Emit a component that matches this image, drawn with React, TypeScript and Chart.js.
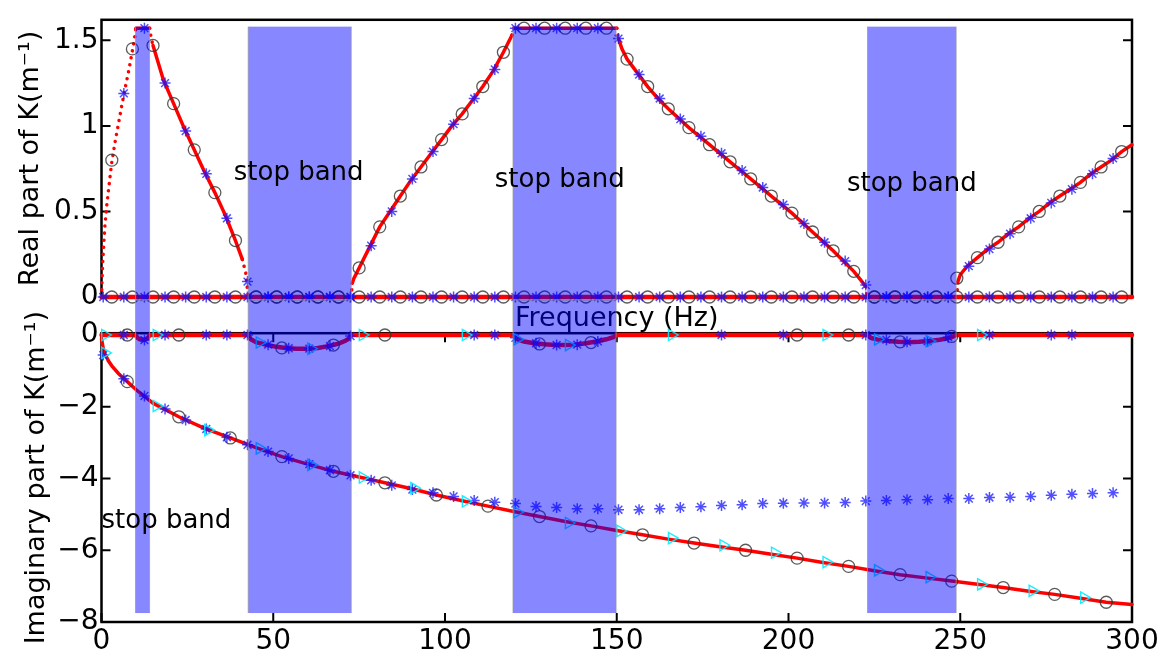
import React, { useEffect, useRef } from "react";
import { Chart, registerables } from "chart.js";

Chart.register(...registerables);
Chart.defaults.font.family = "'DejaVu Sans', sans-serif";

// ---------------- axes ----------------
const FREQ_TICKS = [0, 50, 100, 150, 200, 250, 300];
const RE_TICKS = [0, 0.5, 1, 1.5];
const IM_TICKS = [0, -2, -4, -6, -8];

// ---------------- stop bands (Hz) ----------------
const BAND_START = [9.9, 42.7, 119.8, 223];
const BAND_END = [14, 72.7, 149.8, 248.8];

// ---------------- analytic curves ----------------
// mode 1, real part of K
const RE1_F = [0, 0.3, 0.6, 1, 1.5, 2, 3, 4, 5, 6, 7, 8, 9, 9.6, 10, 14, 14.5, 15, 18, 21, 24, 27, 30, 33, 36, 39, 41, 42, 42.7,
  72.7, 73, 73.5, 75, 78, 81, 84, 87, 90, 93, 96, 99, 102, 105, 108, 111, 114, 117, 118.5, 119.5, 120,
  150, 150.5, 151.5, 153, 156, 159, 162, 165, 171, 177, 183, 189, 195, 201, 207, 213, 216, 219, 221, 222.5, 223,
  249, 249.3, 250, 252, 255, 258, 261, 264, 267, 270, 273, 276, 279, 282, 285, 288, 291, 294, 297, 300];
const RE1_K = [0, 0.18, 0.29, 0.42, 0.53, 0.62, 0.79, 0.91, 1.02, 1.13, 1.23, 1.33, 1.44, 1.51, 1.571, 1.571, 1.51, 1.47, 1.27, 1.13, 0.99, 0.86, 0.73, 0.61, 0.48, 0.33, 0.22, 0.14, 0,
  0, 0.08, 0.11, 0.17, 0.29, 0.41, 0.5, 0.59, 0.68, 0.76, 0.84, 0.92, 1.0, 1.07, 1.15, 1.23, 1.32, 1.43, 1.49, 1.53, 1.571,
  1.571, 1.51, 1.45, 1.39, 1.31, 1.23, 1.16, 1.1, 0.99, 0.89, 0.79, 0.69, 0.59, 0.49, 0.38, 0.27, 0.21, 0.15, 0.1, 0.06, 0,
  0, 0.09, 0.13, 0.18, 0.23, 0.28, 0.32, 0.37, 0.41, 0.46, 0.5, 0.55, 0.59, 0.63, 0.67, 0.72, 0.76, 0.8, 0.85, 0.89];
// mode 2, real part of K (evanescent)
const RE2_F = [0, 300];
const RE2_K = [0, 0];

// mode 1, imaginary part of K
const IM1_F = [0, 9.9, 10.5, 11.2, 12, 12.8, 13.5, 14,
  42.7, 43.5, 45, 48, 51, 54, 57, 60, 63, 66, 69, 71, 72, 72.7,
  119.8, 121, 123, 126, 129, 132, 135, 138, 141, 144, 147, 149, 149.8,
  223, 224, 226, 229, 232, 235, 238, 241, 244, 247, 248, 248.8, 300];
const IM1_K = [0, 0, -0.08, -0.12, -0.14, -0.12, -0.08, 0,
  0, -0.12, -0.2, -0.27, -0.33, -0.37, -0.38, -0.38, -0.36, -0.31, -0.24, -0.16, -0.1, 0,
  0, -0.12, -0.18, -0.23, -0.26, -0.28, -0.28, -0.27, -0.23, -0.18, -0.12, -0.06, 0,
  0, -0.08, -0.13, -0.17, -0.19, -0.2, -0.19, -0.17, -0.13, -0.08, -0.04, 0, 0];
// mode 2, imaginary part of K
const IM2_F = [0, 0.5, 1, 2, 3, 5, 7.5, 10, 15, 22.5, 30, 37.5, 45, 52.5, 60, 67.5, 75, 82.5, 90, 97.5, 105, 112.5,
  120, 127.5, 135, 142.5, 150, 157.5, 165, 172.5, 180, 187.5, 195, 202.5, 210, 217.5, 225, 232.5, 240, 247.5,
  255, 262.5, 270, 277.5, 285, 292.5, 300];
const IM2_K = [-0.1, -0.38, -0.52, -0.72, -0.86, -1.08, -1.3, -1.52, -1.9, -2.28, -2.6, -2.87, -3.14, -3.39, -3.6, -3.8, -3.96, -4.12, -4.28, -4.46, -4.62, -4.77,
  -4.92, -5.06, -5.2, -5.32, -5.45, -5.57, -5.69, -5.8, -5.9, -6.0, -6.11, -6.22, -6.34, -6.45, -6.57, -6.68, -6.77, -6.86,
  -6.95, -7.04, -7.14, -7.23, -7.34, -7.45, -7.51];

// ---------------- numerical samples ----------------
const CIRC_F_RE = [3, 9, 15, 21, 27, 33, 39, 45, 51, 57, 63, 69, 75, 81, 87, 93, 99, 105, 111, 117, 123, 129, 135, 141, 147,
  153, 159, 165, 171, 177, 183, 189, 195, 201, 207, 213, 219, 225, 231, 237, 243, 249, 255, 261, 267, 273, 279, 285, 291, 297];
const STAR_F = [0.5, 6.5, 12.5, 18.5, 24.5, 30.5, 36.5, 42.5, 48.5, 54.5, 60.5, 66.5, 72.5, 78.5, 84.5, 90.5, 96.5, 102.5, 108.5, 114.5,
  120.5, 126.5, 132.5, 138.5, 144.5, 150.5, 156.5, 162.5, 168.5, 174.5, 180.5, 186.5, 192.5, 198.5, 204.5, 210.5, 216.5, 222.5, 228.5, 234.5,
  240.5, 246.5, 252.5, 258.5, 264.5, 270.5, 276.5, 282.5, 288.5, 294.5];
const CIRC_F_IM = [7.5, 22.5, 37.5, 52.5, 67.5, 82.5, 97.5, 112.5, 127.5, 142.5, 157.5, 172.5, 187.5, 202.5, 217.5, 232.5, 247.5, 262.5, 277.5, 292.5];
const TRI_F = [1, 16, 31, 46, 61, 76, 91, 106, 121, 136, 151, 166, 181, 196, 211, 226, 241, 256, 271, 286];

const RE1_CIRC = [0.8, 1.45, 1.47, 1.13, 0.86, 0.61, 0.33, 0, 0, 0, 0, 0, 0.17, 0.41, 0.59, 0.76, 0.92, 1.07, 1.23, 1.43,
  1.571, 1.571, 1.571, 1.571, 1.571, 1.39, 1.23, 1.1, 0.99, 0.89, 0.79, 0.69, 0.59, 0.49, 0.38, 0.27, 0.15, 0, 0, 0, 0,
  0.11, 0.23, 0.32, 0.41, 0.5, 0.59, 0.67, 0.76, 0.85];
const RE2_CIRC = [0, 0, 0, 0, 0, 0, 0, 0, 0, 0, 0, 0, 0, 0, 0, 0, 0, 0, 0, 0, 0, 0, 0, 0, 0,
  0, 0, 0, 0, 0, 0, 0, 0, 0, 0, 0, 0, 0, 0, 0, 0, 0, 0, 0, 0, 0, 0, 0, 0, 0];
const RE1_STAR = [null, 1.19, 1.571, 1.25, 0.97, 0.72, 0.46, 0.09, 0, 0, 0, 0, 0, 0.3, 0.5, 0.69, 0.85, 1.01, 1.16, 1.33,
  1.571, 1.571, 1.571, 1.571, 1.571, 1.51, 1.3, 1.16, 1.04, 0.94, 0.84, 0.74, 0.64, 0.54, 0.43, 0.32, 0.21, 0.07, 0, 0,
  0, 0, 0.18, 0.28, 0.37, 0.46, 0.55, 0.63, 0.72, 0.81];
const RE2_STAR = [0, 0, 0, 0, 0, 0, 0, 0, 0, 0, 0, 0, 0, 0, 0, 0, 0, 0, 0, 0, 0, 0, 0, 0, 0,
  0, 0, 0, 0, 0, 0, 0, 0, 0, 0, 0, 0, 0, 0, 0, 0, 0, 0, 0, 0, 0, 0, 0, 0, 0];

const IM1_CIRC = [0, 0, null, -0.36, -0.28, 0, null, null, -0.25, -0.21, null, null, null, 0, 0, -0.19, -0.04, null, null, null];
const IM2_CIRC = [-1.3, -2.28, -2.87, -3.39, -3.8, -4.12, -4.46, -4.77, -5.06, -5.32, -5.57, -5.8, -6.0, -6.22, -6.45, -6.68, -6.86, -7.04, -7.23, -7.45];
const IM1_TRI = [0, 0, null, -0.21, -0.38, 0, null, 0, -0.12, -0.28, null, 0, null, null, 0, -0.12, -0.17, 0, null, null];
const IM2_TRI = [-0.5, -1.98, -2.65, -3.16, -3.62, -3.97, -4.27, -4.64, -4.94, -5.24, -5.46, -5.66, -5.86, -6.07, -6.33, -6.56, -6.75, -6.95, -7.13, -7.32];
const IM1_STAR = [null, 0, -0.14, 0, null, 0, 0, 0, -0.27, -0.37,
  -0.38, -0.31, -0.03, null, null, null, null, null, 0, 0,
  -0.08, -0.23, -0.28, -0.27, -0.18, null, null, null, null, null,
  0, null, null, 0, null, null, null, 0, -0.13, -0.19,
  -0.18, -0.06, null, 0, null, null, 0, 0, null, null];
const IM2_STAR = [-0.56, -1.22, -1.7, -2.06, -2.37, -2.62, -2.85, -3.06, -3.25, -3.44,
  -3.6, -3.77, -3.91, -4.05, -4.19, -4.31, -4.4, -4.5, -4.61, -4.66,
  -4.7, -4.78, -4.81, -4.84, -4.84, -4.87, -4.87, -4.84, -4.81, -4.79,
  -4.75, -4.73, -4.7, -4.69, -4.68, -4.68, -4.67, -4.63, -4.61, -4.59,
  -4.59, -4.56, -4.56, -4.53, -4.52, -4.5, -4.47, -4.44, -4.42, -4.4];

// annotation anchors (data coordinates)
const STOP_LABEL_F = [38.5, 114.5, 217];
const STOP_LABEL_RE = [0.685, 0.645, 0.62];
const STOP_LABEL_IM_F = 0;
const STOP_LABEL_IM = -5.38;
const BAND_RE_TOP = 1.58;
const BAND_IM_BOTTOM = -7.75;

// ---------------- layout ----------------
const W = 1168;
const H = 659;
const PLOT_LEFT = 101.5;
const PLOT_RIGHT = 1132;
const RE_TOP = 11;
const RE_BOTTOM = 297;
const IM_TOP = 333.2;
const IM_BOTTOM = 622;
const SEAM = 300;

const RED = "#ff0000";
const CIRCLE = "rgba(50,50,50,0.8)";
const STAR = "rgba(20,20,255,0.75)";
const TRI = "rgba(0,235,255,0.9)";
const BAND = "rgba(0,0,255,0.47)";

const pts = (xs: number[], ys: (number | null)[]) =>
  xs.map((x, i) => ({ x, y: ys[i] })).filter((p) => p.y !== null) as { x: number; y: number }[];

const steep = (c: any) => Math.abs(c.p1.y - c.p0.y) > 3.5 * Math.abs(c.p1.x - c.p0.x);

const curve = (xs: number[], ys: number[], width: number, dotted: boolean) => ({
  data: pts(xs, ys),
  showLine: true,
  borderColor: RED,
  borderWidth: width,
  borderCapStyle: "round",
  pointRadius: 0,
  clip: false,
  order: 10,
  segment: dotted ? { borderDash: (c: any) => (steep(c) ? [0.1, 7] : undefined) } : undefined,
});

const circles = (xs: number[], ys: (number | null)[]) => ({
  data: pts(xs, ys),
  showLine: false,
  pointStyle: "circle",
  pointRadius: 6,
  pointBorderWidth: 1.3,
  pointBorderColor: CIRCLE,
  pointBackgroundColor: "rgba(0,0,0,0)",
  clip: false,
  order: 3,
});

const stars = (xs: number[], ys: (number | null)[]) => ({
  data: pts(xs, ys),
  showLine: false,
  pointStyle: "star",
  pointRadius: 5.5,
  pointBorderWidth: 1.5,
  pointBorderColor: STAR,
  pointBackgroundColor: STAR,
  clip: false,
  order: 2,
});

const triangles = (xs: number[], ys: (number | null)[]) => ({
  data: pts(xs, ys),
  showLine: false,
  pointStyle: "triangle",
  pointRotation: 90,
  pointRadius: 6.5,
  pointBorderWidth: 1.4,
  pointBorderColor: TRI,
  pointBackgroundColor: "rgba(0,0,0,0)",
  clip: false,
  order: 1,
});

const fmt = (v: number) => (v < 0 ? "\u2212" + Math.abs(v) : String(v));

// spines with inward ticks
const framePlugin = (xTicks: number[] | null, yTicks: number[]) => ({
  id: "frame",
  beforeDatasetsDraw(chart: any) {
    const { ctx, chartArea: a, scales } = chart;
    const L = 9;
    ctx.save();
    ctx.strokeStyle = "#000";
    ctx.lineWidth = 2.5;
    ctx.strokeRect(a.left, a.top, a.right - a.left, a.bottom - a.top);
    ctx.lineWidth = 2;
    ctx.beginPath();
    for (const v of yTicks) {
      const y = scales.y.getPixelForValue(v);
      ctx.moveTo(a.left, y);
      ctx.lineTo(a.left + L, y);
      ctx.moveTo(a.right, y);
      ctx.lineTo(a.right - L, y);
    }
    if (xTicks) {
      for (const v of xTicks) {
        const x = scales.x.getPixelForValue(v);
        ctx.moveTo(x, a.bottom);
        ctx.lineTo(x, a.bottom - L);
        ctx.moveTo(x, a.top);
        ctx.lineTo(x, a.top + L);
      }
    }
    ctx.stroke();
    ctx.restore();
  },
});

// translucent stop-band rectangles drawn over the curves
const bandPlugin = (span: (chart: any) => [number, number], openTop: boolean) => ({
  id: "bands",
  afterDatasetsDraw(chart: any) {
    const { ctx, scales } = chart;
    const [y0, y1] = span(chart);
    ctx.save();
    for (let i = 0; i < BAND_START.length; i++) {
      const x0 = scales.x.getPixelForValue(BAND_START[i]);
      const x1 = scales.x.getPixelForValue(BAND_END[i]);
      ctx.fillStyle = BAND;
      ctx.fillRect(x0, y0, x1 - x0, y1 - y0);
      ctx.strokeStyle = "rgba(150,150,150,0.7)";
      ctx.lineWidth = 1;
      ctx.beginPath();
      if (openTop) {
        ctx.moveTo(x0, y0);
        ctx.lineTo(x0, y1);
        ctx.lineTo(x1, y1);
        ctx.lineTo(x1, y0);
      } else {
        ctx.moveTo(x0, y1);
        ctx.lineTo(x0, y0);
        ctx.lineTo(x1, y0);
        ctx.lineTo(x1, y1);
      }
      ctx.stroke();
    }
    ctx.restore();
  },
});

const textPlugin = (draw: (chart: any, ctx: CanvasRenderingContext2D) => void) => ({
  id: "texts",
  afterDraw(chart: any) {
    const ctx = chart.ctx as CanvasRenderingContext2D;
    ctx.save();
    ctx.fillStyle = "#000";
    draw(chart, ctx);
    ctx.restore();
  },
});

const TICK_FONT = { family: "'DejaVu Sans', sans-serif", size: 28 };
const TITLE_FONT = { family: "'DejaVu Sans', sans-serif", size: 27 };

export default function App() {
  const reRef = useRef<HTMLCanvasElement>(null);
  const imRef = useRef<HTMLCanvasElement>(null);

  useEffect(() => {
    const reChart = new Chart(reRef.current as HTMLCanvasElement, {
      type: "scatter",
      data: {
        datasets: [
          curve(RE1_F, RE1_K, 3.5, true),
          curve(RE2_F, RE2_K, 4.5, false),
          circles(CIRC_F_RE, RE1_CIRC),
          circles(CIRC_F_RE, RE2_CIRC),
          stars(STAR_F, RE1_STAR),
          stars(STAR_F, RE2_STAR),
        ] as any,
      },
      options: {
        animation: false,
        responsive: false,
        devicePixelRatio: 1,
        events: [],
        layout: { padding: { left: 0, right: W - PLOT_RIGHT, top: RE_TOP, bottom: H - RE_BOTTOM } },
        plugins: { legend: { display: false }, tooltip: { enabled: false } },
        scales: {
          x: { type: "linear", min: 0, max: 300, display: false },
          y: {
            type: "linear",
            min: 0,
            max: 1.62,
            afterFit: (s: any) => {
              s.width = PLOT_LEFT;
            },
            afterBuildTicks: (s: any) => {
              s.ticks = RE_TICKS.map((value) => ({ value }));
            },
            grid: { display: false, drawTicks: false, tickLength: 0 },
            border: { display: false },
            ticks: { font: TICK_FONT, color: "#000", padding: 3, callback: (v: any) => fmt(Number(v)) },
            title: {
              display: true,
              text: "Real part of K(m\u207B\u00B9)",
              font: TITLE_FONT,
              color: "#000",
              padding: { top: 15, bottom: 0 },
            },
          },
        },
      } as any,
      plugins: [
        framePlugin(null, RE_TICKS),
        bandPlugin((c) => [c.scales.y.getPixelForValue(BAND_RE_TOP), SEAM], true),
        textPlugin((c, ctx) => {
          const { scales, chartArea: a } = c;
          ctx.font = "26px 'DejaVu Sans', sans-serif";
          ctx.textAlign = "left";
          ctx.textBaseline = "alphabetic";
          for (let i = 0; i < STOP_LABEL_F.length; i++) {
            ctx.fillText("stop band", scales.x.getPixelForValue(STOP_LABEL_F[i]), scales.y.getPixelForValue(STOP_LABEL_RE[i]));
          }
          ctx.font = "27px 'DejaVu Sans', sans-serif";
          ctx.textAlign = "center";
          ctx.fillText("Frequency (Hz)", (a.left + a.right) / 2, 326);
        }),
      ],
    });

    const imChart = new Chart(imRef.current as HTMLCanvasElement, {
      type: "scatter",
      data: {
        datasets: [
          curve(IM1_F, IM1_K, 4.5, false),
          curve(IM2_F, IM2_K, 3.5, false),
          circles(CIRC_F_IM, IM1_CIRC),
          circles(CIRC_F_IM, IM2_CIRC),
          stars(STAR_F, IM1_STAR),
          stars(STAR_F, IM2_STAR),
          triangles(TRI_F, IM1_TRI),
          triangles(TRI_F, IM2_TRI),
        ] as any,
      },
      options: {
        animation: false,
        responsive: false,
        devicePixelRatio: 1,
        events: [],
        layout: { padding: { left: 0, right: W - PLOT_RIGHT, top: IM_TOP, bottom: 0 } },
        plugins: { legend: { display: false }, tooltip: { enabled: false } },
        scales: {
          x: {
            type: "linear",
            min: 0,
            max: 300,
            afterFit: (s: any) => {
              s.height = H - IM_BOTTOM;
            },
            afterBuildTicks: (s: any) => {
              s.ticks = FREQ_TICKS.map((value) => ({ value }));
            },
            grid: { display: false, drawTicks: false, tickLength: 0 },
            border: { display: false },
            ticks: { font: TICK_FONT, color: "#000", padding: 3, maxRotation: 0, callback: (v: any) => fmt(Number(v)) },
          },
          y: {
            type: "linear",
            min: -8,
            max: 0.05,
            afterFit: (s: any) => {
              s.width = PLOT_LEFT;
            },
            afterBuildTicks: (s: any) => {
              s.ticks = IM_TICKS.map((value) => ({ value }));
            },
            grid: { display: false, drawTicks: false, tickLength: 0 },
            border: { display: false },
            ticks: { font: TICK_FONT, color: "#000", padding: 3, callback: (v: any) => fmt(Number(v)) },
            title: {
              display: true,
              text: "Imaginary part of K(m\u207B\u00B9)",
              font: TITLE_FONT,
              color: "#000",
              padding: { top: 21, bottom: 0 },
            },
          },
        },
      } as any,
      plugins: [
        framePlugin(FREQ_TICKS, IM_TICKS),
        bandPlugin((c) => [SEAM, c.scales.y.getPixelForValue(BAND_IM_BOTTOM)], false),
        textPlugin((c, ctx) => {
          const { scales } = c;
          ctx.font = "26px 'DejaVu Sans', sans-serif";
          ctx.textAlign = "left";
          ctx.textBaseline = "alphabetic";
          ctx.fillText("stop band", scales.x.getPixelForValue(STOP_LABEL_IM_F), scales.y.getPixelForValue(STOP_LABEL_IM));
        }),
      ],
    });

    return () => {
      reChart.destroy();
      imChart.destroy();
    };
  }, []);

  const canvasStyle: React.CSSProperties = { position: "absolute", left: 0, top: 0, width: W, height: H };
  return (
    <div style={{ position: "fixed", left: 0, top: 0, width: W, height: H, background: "#fff" }}>
      <canvas ref={reRef} width={W} height={H} style={canvasStyle} />
      <canvas ref={imRef} width={W} height={H} style={canvasStyle} />
    </div>
  );
}
